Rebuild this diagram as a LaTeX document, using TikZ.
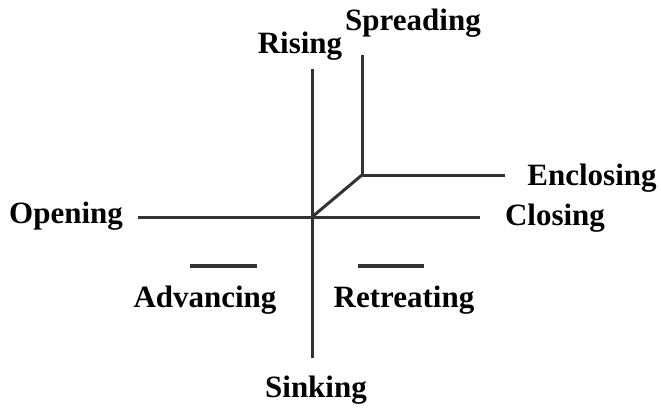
\documentclass[tikz,border=0pt]{standalone}
\usepackage{fontspec}
\setmainfont{Liberation Serif}
\usepackage{tikz}
\usepackage{xcolor}
\definecolor{axisgray}{HTML}{333333}
\tikzset{axis/.style={line width=3pt,draw=axisgray},
  bar/.style={line width=4.5pt,draw=axisgray},
  word/.style={font=\fontsize{31}{36}\selectfont\bfseries,anchor=base,inner sep=0pt}}

\begin{document}
\begin{tikzpicture}[x=1pt,y=-1pt]
\useasboundingbox (0,0) rectangle (661,407);
% main cross
\coordinate (o) at (312,217);
\coordinate (top) at (312,69);
\coordinate (bot) at (312,358);
\coordinate (left) at (138,217);
\coordinate (right) at (480,217);
\draw[axis] (top)--(bot);
\draw[axis] (left)--(right);
% upper branch
\coordinate (k) at (362,175);
\coordinate (ktop) at (362,55);
\coordinate (kright) at (505,175);
\draw[axis] (o)--(k);
\draw[axis] (ktop)--(k)--(kright);
% short bars
\coordinate (a1) at (190,266);
\coordinate (a2) at (257,266);
\coordinate (r1) at (358,266);
\coordinate (r2) at (424,266);
\draw[bar] (a1)--(a2);
\draw[bar] (r1)--(r2);
% labels
\node[word] (rising) at (300,53) {Rising};
\node[word] (spreading) at (413,30) {Spreading};
\node[word] (enclosing) at (592,185) {Enclosing};
\node[word] (opening) at (66,223) {Opening};
\node[word] (closing) at (555,225) {Closing};
\node[word] (advancing) at (205,307) {Advancing};
\node[word] (retreating) at (404,307) {Retreating};
\node[word] (sinking) at (316,397) {Sinking};
\end{tikzpicture}
\end{document}
